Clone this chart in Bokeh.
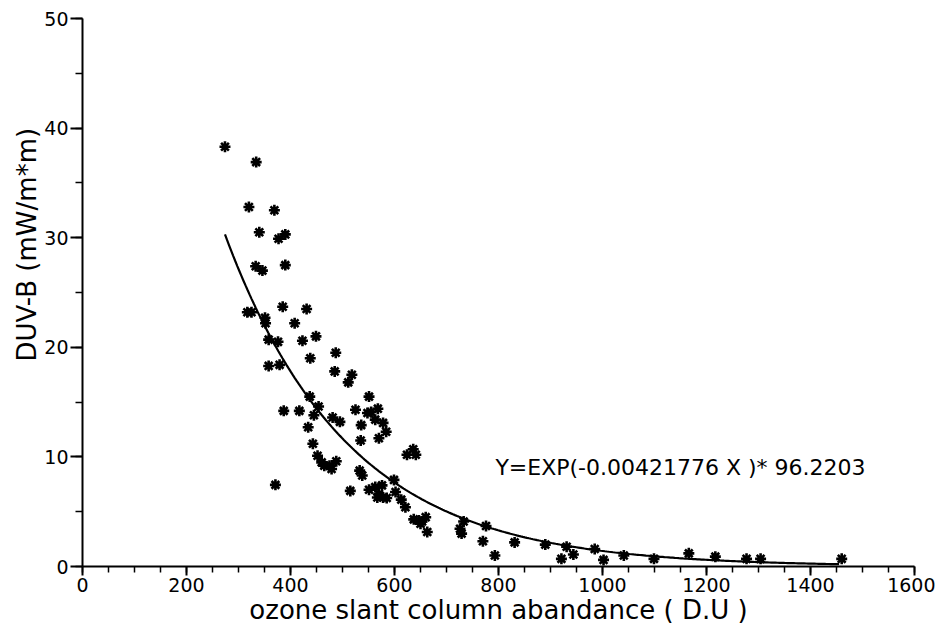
import numpy as np
from bokeh.plotting import figure
from bokeh.models import Range1d, FixedTicker, Label, Title
from bokeh.embed import file_html
from bokeh.resources import INLINE

# ozone slant column abundance (D.U) and DUV-B (mW/m*m)
ozone = [274, 334, 320, 369, 340, 377, 390, 333, 346, 390,
         317, 325, 351, 352, 385, 431, 408, 358, 376, 423,
         449, 487, 438, 358, 379, 485, 518, 511, 437, 454,
         551, 387, 417, 445, 481, 495, 525, 548, 555, 568,
         563, 578, 536, 584, 434, 570, 535, 443, 624, 636,
         641, 452, 460, 465, 475, 479, 488, 533, 538, 599,
         371, 515, 551, 563, 576, 570, 567, 578, 585, 602,
         613, 621, 637, 647, 653, 660, 650, 663, 726, 729,
         733, 776, 770, 793, 831, 890, 921, 931, 944, 985,
         1002, 1041, 1099, 1166, 1217, 1277, 1304, 1460]
duvb = [38.3, 36.9, 32.8, 32.5, 30.5, 29.9, 30.3, 27.4, 27.0, 27.5,
        23.2, 23.2, 22.7, 22.2, 23.7, 23.5, 22.2, 20.7, 20.5, 20.6,
        21.0, 19.5, 19.0, 18.3, 18.4, 17.8, 17.5, 16.8, 15.5, 14.6,
        15.5, 14.2, 14.2, 13.8, 13.6, 13.2, 14.3, 14.0, 14.1, 14.4,
        13.4, 13.1, 12.9, 12.3, 12.7, 11.7, 11.5, 11.2, 10.2, 10.7,
        10.2, 10.1, 9.5, 9.2, 9.2, 8.9, 9.6, 8.75, 8.3, 7.9,
        7.45, 6.9, 7.0, 7.25, 7.4, 6.6, 6.3, 6.3, 6.25, 6.8,
        6.1, 5.4, 4.3, 4.2, 4.1, 4.5, 3.9, 3.15, 3.45, 3.0,
        4.1, 3.7, 2.3, 1.0, 2.2, 2.0, 0.7, 1.8, 1.1, 1.6,
        0.6, 1.0, 0.7, 1.2, 0.9, 0.7, 0.7, 0.7]

# fitted curve stated on the chart: Y = EXP(-0.00421776 X) * 96.2203
fit_k = -0.00421776
fit_a = 96.2203
fit_x_start = 274
fit_x_end = 1455

x_ticks = [0, 200, 400, 600, 800, 1000, 1200, 1400, 1600]
y_ticks = [0, 10, 20, 30, 40, 50]

FONT = "DejaVu Sans"

p = figure(width=935, height=627, output_backend="svg", toolbar_location=None,
           x_range=Range1d(0, 1600), y_range=Range1d(0, 50),
           min_border_left=82, min_border_right=21, min_border_top=18, min_border_bottom=59)
p.outline_line_color = None
p.grid.visible = False
p.background_fill_color = "white"

fx = np.linspace(fit_x_start, fit_x_end, 300)
fy = fit_a * np.exp(fit_k * fx)
p.line(fx, fy, line_color="black", line_width=2.2)

p.scatter(ozone, duvb, marker="asterisk", size=11, line_color="black", line_width=2.6)
p.scatter(ozone, duvb, marker="circle", size=4, fill_color="black", line_color="black")

for ax in (p.xaxis[0], p.yaxis[0]):
    ax.axis_line_color = "black"
    ax.axis_line_width = 2
    ax.major_tick_line_color = "black"
    ax.major_tick_line_width = 2
    ax.minor_tick_line_color = "black"
    ax.minor_tick_line_width = 1.5
    ax.major_tick_in = 0
    ax.minor_tick_in = 0
    ax.major_label_text_font = FONT
    ax.major_label_text_font_size = "19px"
    ax.major_label_text_color = "black"
    ax.axis_label_text_font = FONT
    ax.axis_label_text_font_style = "normal"
    ax.axis_label_text_color = "black"

p.xaxis.ticker = FixedTicker(ticks=x_ticks, minor_ticks=list(range(0, 1601, 50)))
p.yaxis.ticker = FixedTicker(ticks=y_ticks, minor_ticks=list(range(0, 51, 5)))
p.xaxis.major_tick_out = 9
p.xaxis.minor_tick_out = 6
p.yaxis.major_tick_out = 12
p.yaxis.minor_tick_out = 7
p.xaxis.major_label_standoff = 2
p.yaxis.major_label_standoff = 2

p.xaxis.axis_label = "ozone slant column abandance ( D.U )"
p.xaxis.axis_label_text_font_size = "26px"
p.xaxis.axis_label_standoff = 0

# y-axis title as a side title, shifted upward as in the original
p.add_layout(Title(text="DUV-B  (mW/m*m)", align="left", offset=205,
                   text_font=FONT, text_font_size="26px", text_color="black",
                   text_font_style="normal", standoff=0), "left")

p.add_layout(Label(x=794, y=9.0, text="Y=EXP(-0.00421776 X )* 96.2203",
                   text_font=FONT, text_font_size="22px", text_color="black",
                   text_baseline="middle", text_align="left"))

open("out.html", "w").write(file_html(p, INLINE))
